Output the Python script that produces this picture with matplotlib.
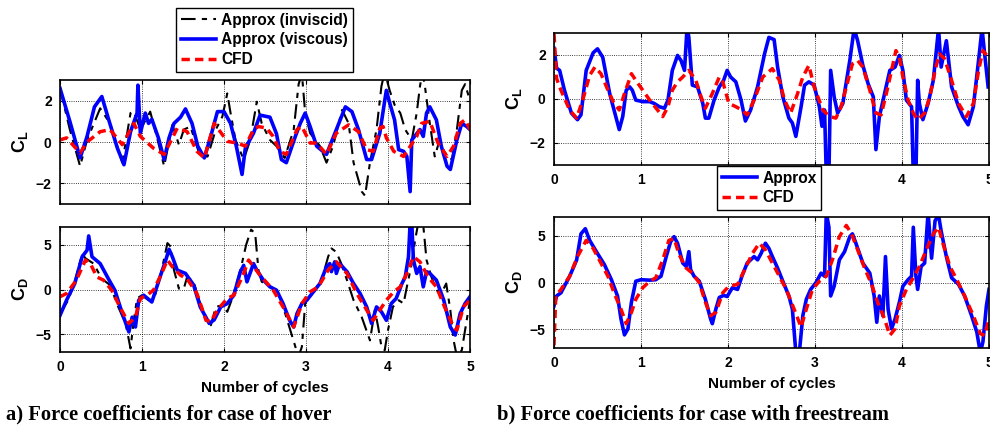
import numpy as np
import matplotlib.pyplot as plt

plt.rcParams['font.family'] = 'Liberation Sans'
plt.rcParams['font.weight'] = 'bold'
plt.rcParams['axes.labelweight'] = 'bold'
plt.rcParams['mathtext.fontset'] = 'custom'
plt.rcParams['mathtext.rm'] = 'Liberation Sans:bold'
plt.rcParams['mathtext.bf'] = 'Liberation Sans:bold'

# ---- a) hover, lift coefficient ----
hov_cl_inv_x = [0, 0.12, 0.245, 0.33, 0.49, 0.61, 0.76, 0.86, 0.9, 0.98, 1.1, 1.18, 1.27, 1.37, 1.45, 1.51, 1.59,
                1.71, 1.8, 1.9, 1.98, 2.04, 2.08, 2.14, 2.24, 2.32, 2.4, 2.46, 2.56, 2.64, 2.74, 2.85, 2.91, 2.95,
                2.99, 3.05, 3.17, 3.25, 3.33, 3.44, 3.52, 3.58, 3.68, 3.72, 3.78, 3.86, 3.92, 3.96, 4.02, 4.08,
                4.15, 4.21, 4.29, 4.35, 4.39, 4.42, 4.45, 4.51, 4.57, 4.63, 4.69, 4.78, 4.84, 4.9, 4.94, 5.0]
hov_cl_inv = [2.6, 0.6, -1.17, 0.1, 1.63, 0.9, -1.0, 1.4, 1.47, 0.6, 1.47, 0.27, -1.17, 0.83, -0.13, 0.6, 0.75,
              -0.7, -0.7, 0.6, 1.23, 2.35, 1.4, 0.1, -0.85, 0.1, 1.95, 0.9, 0.1, -0.2, -0.77, 0.6, 2.8, 3.3,
              1.4, 0.43, -0.2, -1.0, -0.2, 1.55, 0.9, -1.0, -2.4, -2.6, -1.0, 0.6, 2.7, 3.4, 2.5, 1.8,
              1.4, 0.6, 0.1, 1.4, 2.7, 3.4, 2.7, 0.9, -0.7, 0.1, -0.5, -0.85, 0.6, 2.5, 2.8, 2.0]

hov_cl_visc_x = [0, 0.12, 0.245, 0.33, 0.42, 0.51, 0.6, 0.7, 0.78, 0.86, 0.94, 0.95, 0.98, 1.04, 1.08, 1.12, 1.2,
                 1.27, 1.33, 1.39, 1.47, 1.53, 1.61, 1.68, 1.76, 1.84, 1.92, 2.0, 2.08, 2.15, 2.22, 2.26, 2.36,
                 2.44, 2.56, 2.64, 2.7, 2.76, 2.87, 2.93, 2.99, 3.05, 3.13, 3.25, 3.37, 3.48, 3.56, 3.64, 3.74,
                 3.8, 3.9, 3.96, 3.98, 4.02, 4.08, 4.13, 4.19, 4.23, 4.27, 4.29, 4.39, 4.43, 4.47, 4.51, 4.59,
                 4.65, 4.72, 4.76, 4.84, 4.9, 4.96, 5.0]
hov_cl_visc = [2.6, 1.0, -0.77, 0.27, 1.7, 2.2, 1.0, -0.3, -1.1, 0.5, 1.4, 2.75, 0.43, 1.4, 0.9, 1.1, 0.2,
               -0.85, 0.2, 0.9, 1.2, 1.6, 0.9, -0.2, -0.77, 0.3, 1.47, 1.47, 0.9, -0.2, -1.57, -0.3, 0.43,
               1.3, 1.2, 0.4, -0.85, -1.0, 0.27, 0.9, 1.4, 0.75, -0.2, -0.6, 0.6, 1.7, 1.47, 0.6, -0.85,
               -0.85, 0.43, 2.0, 2.5, 1.9, 1.07, -0.37, -0.45, -0.7, -2.4, 0.1, 0.6, 0.27, 1.4, 1.7, 1.07,
               -0.2, -1.17, -1.33, 0.1, 0.9, 0.75, 0.6]

hov_cl_cfd_x = [0, 0.08, 0.245, 0.33, 0.49, 0.61, 0.76, 0.9, 0.98, 1.14, 1.27, 1.43, 1.55, 1.67, 1.76, 1.88,
                2.04, 2.16, 2.26, 2.36, 2.42, 2.52, 2.6, 2.68, 2.76, 2.89, 2.95, 3.05, 3.13, 3.25, 3.37, 3.52,
                3.64, 3.74, 3.82, 3.9, 3.94, 3.98, 4.07, 4.19, 4.35, 4.41, 4.51, 4.61, 4.72, 4.8, 4.88, 4.94, 5.0]
hov_cl_cfd = [0.1, 0.2, -0.53, 0.0, 0.5, 0.6, -0.13, 0.9, 0.27, -0.3, -0.6, 0.67, 0.5, -0.45, -0.77, 0.9,
              0.03, -0.05, -0.2, 0.6, 0.75, 0.67, 0.27, -0.45, -0.6, 0.6, 0.75, -0.05, -0.05, -0.6, 0.43, 0.83,
              0.5, -0.37, -0.45, 0.67, 0.75, 0.2, -0.45, -0.7, 0.27, 0.9, 1.0, -0.05, -0.7, -0.2, 0.9, 1.07, 0.6]

# ---- a) hover, drag coefficient ----
hov_cd_inv_x = [0, 0.1, 0.18, 0.27, 0.31, 0.41, 0.51, 0.61, 0.71, 0.8, 0.86, 0.9, 0.94, 1.0, 1.08, 1.16, 1.24,
                1.31, 1.35, 1.39, 1.45, 1.51, 1.55, 1.63, 1.71, 1.8, 1.84, 1.9, 1.98, 2.04, 2.1, 2.2, 2.27, 2.33,
                2.38, 2.42, 2.46, 2.54, 2.6, 2.68, 2.76, 2.87, 2.91, 2.95, 2.99, 3.09, 3.19, 3.27, 3.31, 3.37,
                3.43, 3.5, 3.58, 3.68, 3.78, 3.84, 3.88, 3.92, 3.96, 4.0, 4.06, 4.13, 4.19, 4.23, 4.29, 4.33,
                4.37, 4.43, 4.47, 4.53, 4.59, 4.65, 4.71, 4.76, 4.8, 4.84, 4.9, 4.94, 5.0]
hov_cd_inv = [-2.7, -1.2, 0.86, 4.0, 3.5, 2.9, 1.2, 0.5, -1.95, -3.8, -6.6, -3.45, -1.0, -0.64, -1.2, -0.64, 2.17,
              5.2, 4.8, 2.17, 0.1, 0.1, 1.4, 0.86, -1.57, -3.45, -4.0, -1.95, -1.76, -2.5, -1.0, 2.17, 5.0, 6.7,
              6.3, 2.17, 0.86, 0.5, 0.1, -0.8, -3.1, -6.4, -7.5, -6.4, -1.57, -0.26, 1.05, 3.67, 4.6, 4.2,
              2.9, 1.05, -1.2, -3.1, -5.7, -2.3, -4.2, -6.4, -6.8, -4.55, -1.95, -1.2, -1.57, 0.3, 2.9, 5.5,
              7.5, 7.2, 3.3, 1.4, -0.07, -0.45, 0.67, -2.3, -5.7, -7.5, -6.8, -4.55, -1.2]

hov_cd_visc_x = [0, 0.08, 0.18, 0.27, 0.33, 0.35, 0.39, 0.49, 0.59, 0.67, 0.76, 0.84, 0.88, 0.92, 0.96, 1.02,
                 1.12, 1.22, 1.29, 1.33, 1.37, 1.43, 1.53, 1.63, 1.71, 1.82, 1.88, 1.96, 2.04, 2.12, 2.2, 2.24,
                 2.28, 2.36, 2.4, 2.48, 2.56, 2.64, 2.72, 2.8, 2.85, 2.89, 2.95, 3.01, 3.09, 3.17, 3.25, 3.29,
                 3.31, 3.35, 3.37, 3.41, 3.5, 3.58, 3.66, 3.74, 3.8, 3.86, 3.92, 3.98, 4.04, 4.1, 4.17, 4.21,
                 4.25, 4.27, 4.29, 4.31, 4.35, 4.39, 4.43, 4.47, 4.51, 4.59, 4.68, 4.76, 4.82, 4.88, 4.94, 5.0]
hov_cd_visc = [-2.9, -1.2, 0.67, 3.67, 4.4, 6.0, 3.67, 2.9, 1.2, -0.1, -2.7, -4.75, -3.1, -4.2, -1.2, -0.64,
               -1.4, 1.4, 3.3, 4.5, 3.67, 2.17, 1.8, 0.5, -1.95, -3.8, -3.4, -1.95, -1.57, -0.64, 2.0, 2.7,
               0.86, 2.9, 2.17, 1.05, 0.3, -0.07, -1.57, -3.45, -4.2, -2.7, -1.57, -1.2, -0.26, 0.67, 2.55, 2.9,
               2.0, 3.1, 1.8, 2.9, 2.0, 0.67, -0.45, -1.95, -3.8, -1.95, -2.5, -3.45, -1.57, -1.0, 0.67, 1.4,
               3.67, 7.5, 7.5, 3.3, 1.8, 2.55, 0.3, 2.0, 1.8, 1.05, -1.2, -4.2, -5.1, -2.7, -1.57, -0.8]

hov_cd_cfd_x = [0, 0.08, 0.2, 0.31, 0.37, 0.45, 0.53, 0.63, 0.73, 0.84, 0.92, 0.98, 1.06, 1.14, 1.22, 1.31, 1.37,
                1.47, 1.55, 1.67, 1.78, 1.84, 1.92, 2.04, 2.12, 2.24, 2.3, 2.44, 2.6, 2.72, 2.85, 2.95, 3.05,
                3.15, 3.27, 3.37, 3.5, 3.62, 3.74, 3.82, 3.9, 3.98, 4.07, 4.15, 4.23, 4.31, 4.39, 4.49, 4.59,
                4.69, 4.8, 4.84, 4.92, 5.0]
hov_cd_cfd = [-0.8, -0.45, 1.05, 3.3, 2.9, 1.4, 1.05, -0.07, -1.95, -3.8, -3.1, -1.0, -0.64, -0.07, 1.4, 3.3, 2.55,
              1.6, 1.2, -0.45, -3.45, -3.6, -2.3, -1.0, -0.64, 1.8, 3.3, 1.6, -0.07, -1.95, -4.2, -1.57, -0.26,
              0.3, 2.17, 3.1, 1.8, -0.45, -2.3, -3.45, -2.3, -1.2, -0.26, 0.3, 1.8, 3.67, 3.1, 1.4, 0.3,
              -1.95, -4.2, -4.55, -1.95, -1.2]

# ---- b) freestream, lift coefficient ----
fs_cl_visc_x = [0, 0.03, 0.065, 0.12, 0.2, 0.27, 0.31, 0.37, 0.45, 0.5, 0.56, 0.64, 0.69, 0.75, 0.79, 0.83, 0.87,
                0.9, 0.94, 1.02, 1.1, 1.15, 1.21, 1.27, 1.31, 1.36, 1.42, 1.46, 1.5, 1.53, 1.55, 1.59, 1.65,
                1.71, 1.74, 1.78, 1.84, 1.9, 1.95, 1.99, 2.03, 2.09, 2.15, 2.2, 2.26, 2.34, 2.42, 2.47, 2.53,
                2.57, 2.63, 2.7, 2.74, 2.78, 2.84, 2.88, 2.93, 2.99, 3.05, 3.08, 3.11, 3.13, 3.16, 3.18, 3.22,
                3.26, 3.32, 3.4, 3.45, 3.49, 3.55, 3.61, 3.67, 3.7, 3.74, 3.8, 3.86, 3.92, 3.97, 4.01, 4.05,
                4.11, 4.13, 4.16, 4.18, 4.2, 4.24, 4.3, 4.36, 4.42, 4.45, 4.51, 4.57, 4.65, 4.7, 4.76, 4.82,
                4.88, 4.92, 4.95, 4.99]
fs_cl_visc = [2.3, 1.4, 1.3, 0.4, -0.64, -0.94, -0.72, 1.3, 2.1, 2.28, 1.9, 0.25, -0.5, -1.39, -0.8, 0.4, 0.55,
              0.4, -0.05, -0.12, -0.12, -0.2, -0.35, -0.42, -0.05, 1.3, 1.98, 1.75, 1.3, 3.3, 2.8, 0.63, 0.55,
              -0.2, -0.87, -0.87, -0.05, 0.55, 0.85, 1.3, 1.0, 0.78, -0.05, -1.0, -0.5, 0.55, 2.05, 2.8, 2.7,
              1.45, 0.1, -0.87, -1.09, -1.7, -0.35, 0.63, 0.78, 0.63, -0.35, -1.24, -0.5, -3.5, -3.5, 1.3, 0.1,
              -0.64, -0.2, 1.75, 3.2, 2.65, 1.53, 0.7, 0.1, -2.3, -0.8, 0.25, 1.3, 1.45, 1.98, 1.3, -0.05,
              -0.35, -3.5, -3.5, 0.85, -0.2, -0.94, -0.2, 0.85, 3.2, 1.45, 2.65, 0.55, -0.35, -0.8, -1.17, -0.35,
              1.75, 3.2, 2.05, 0.55]

fs_cl_cfd_x = [0, 0.03, 0.08, 0.18, 0.26, 0.33, 0.41, 0.47, 0.54, 0.62, 0.69, 0.75, 0.81, 0.89, 0.94, 1.02, 1.1,
               1.19, 1.25, 1.31, 1.36, 1.42, 1.48, 1.55, 1.63, 1.69, 1.74, 1.82, 1.9, 1.94, 2.01, 2.09, 2.16,
               2.22, 2.3, 2.4, 2.51, 2.59, 2.65, 2.72, 2.8, 2.86, 2.93, 2.99, 3.09, 3.17, 3.24, 3.3, 3.36, 3.43,
               3.49, 3.55, 3.63, 3.7, 3.76, 3.82, 3.88, 3.93, 3.97, 4.01, 4.07, 4.13, 4.18, 4.26, 4.32, 4.38,
               4.43, 4.49, 4.57, 4.65, 4.74, 4.82, 4.88, 4.93, 4.99]
fs_cl_cfd = [2.95, 0.93, 0.4, -0.5, -0.87, -0.05, 1.08, 1.45, 1.15, 0.4, -0.2, -0.5, 0.25, 1.15, 0.85, 0.4, -0.05,
             -0.5, -0.8, -0.35, 0.4, 0.78, 1.0, 1.3, 0.85, 0.1, -0.42, 0.25, 1.0, 0.78, -0.2, -0.35, -0.5,
             -0.72, -0.05, 1.0, 1.38, 0.85, -0.05, -0.64, 0.25, 1.0, 1.53, 0.55, -0.5, -0.8, -0.87, -0.35, 0.55,
             1.6, 1.75, 1.45, 0.4, -0.64, -0.72, 0.25, 1.3, 2.2, 1.9, 1.0, -0.05, -0.64, -0.94, -0.64, 0.1, 1.3,
             2.05, 1.83, 0.85, -0.2, -0.8, -0.2, 1.3, 2.2, 1.9]

# ---- b) freestream, drag coefficient ----
fs_cd_visc_x = [0, 0.03, 0.08, 0.18, 0.26, 0.31, 0.36, 0.41, 0.5, 0.58, 0.66, 0.73, 0.77, 0.81, 0.85, 0.89, 0.94,
                1.0, 1.1, 1.17, 1.23, 1.29, 1.34, 1.38, 1.42, 1.48, 1.52, 1.55, 1.57, 1.61, 1.67, 1.74, 1.8,
                1.82, 1.86, 1.9, 1.95, 1.99, 2.05, 2.11, 2.16, 2.22, 2.3, 2.34, 2.38, 2.43, 2.47, 2.51, 2.57,
                2.63, 2.7, 2.74, 2.78, 2.82, 2.86, 2.9, 2.95, 3.01, 3.07, 3.11, 3.13, 3.16, 3.18, 3.22, 3.28,
                3.34, 3.4, 3.43, 3.47, 3.55, 3.63, 3.68, 3.71, 3.74, 3.78, 3.81, 3.84, 3.88, 3.92, 3.97, 4.01,
                4.07, 4.11, 4.13, 4.16, 4.18, 4.22, 4.26, 4.3, 4.34, 4.38, 4.42, 4.45, 4.51, 4.57, 4.65, 4.72,
                4.8, 4.86, 4.9, 4.93, 4.97, 5.0]
fs_cd_visc = [-2.5, -1.44, -1.1, 0.67, 2.4, 5.2, 5.75, 4.5, 3.1, 1.9, 0.3, -1.44, -3.9, -5.6, -4.95, -2.1, 0.14,
              0.3, 0.25, 0.3, 0.67, 2.77, 4.35, 4.9, 4.2, 2.07, 1.72, 3.3, 1.37, 0.67, 0.14, -1.8, -3.9,
              -4.4, -2.85, -1.6, -1.37, -1.5, -0.56, -0.74, 0.67, 2.07, 2.77, 2.42, 3.1, 4.2, 3.65, 2.77, 1.54,
              0.14, -1.44, -2.85, -7.5, -7.5, -3.55, -1.8, -0.74, -0.03, 1.0, 0.67, 7.5, 5.9, -1.44, -0.4, 2.42,
              3.3, 4.9, 5.2, 4.2, 2.07, 1.0, -1.44, -4.25, -1.44, -3.55, 2.77, -2.85, -4.95, -3.9, -2.1, -0.4,
              0.3, 0.67, 5.9, 0.67, -0.74, 1.72, 2.07, 7.5, 2.6, 6.6, 7.2, 5.5, 2.77, 0.5, -0.2, -1.44,
              -3.55, -5.3, -7.5, -6.35, -2.5, -0.74]

fs_cd_cfd_x = [0, 0.02, 0.08, 0.18, 0.27, 0.37, 0.45, 0.54, 0.62, 0.69, 0.77, 0.83, 0.89, 0.94, 1.02, 1.1, 1.17,
               1.25, 1.32, 1.38, 1.44, 1.52, 1.59, 1.67, 1.74, 1.8, 1.86, 1.94, 2.01, 2.11, 2.2, 2.28, 2.36, 2.43,
               2.51, 2.59, 2.67, 2.76, 2.84, 2.9, 2.97, 3.05, 3.13, 3.2, 3.28, 3.36, 3.42, 3.49, 3.57, 3.65, 3.72,
               3.8, 3.86, 3.92, 3.97, 4.05, 4.13, 4.2, 4.28, 4.36, 4.42, 4.47, 4.55, 4.63, 4.72, 4.82, 4.9, 4.95,
               5.0]
fs_cd_cfd = [-6.7, -1.44, -0.74, 0.67, 2.77, 4.5, 3.65, 2.07, 0.67, -1.1, -2.85, -4.4, -3.2, -1.8, -0.56, 0.14,
             0.5, 2.42, 4.5, 4.7, 2.95, 1.54, 1.0, -0.03, -2.1, -3.55, -3.2, -1.1, -0.4, -0.2, 1.54, 3.1, 4.2,
             3.5, 2.07, 0.67, -0.74, -2.85, -4.77, -2.85, -0.74, 0.14, 0.67, 2.42, 4.9, 6.1, 5.2, 3.5, 1.54,
             -0.2, -2.1, -3.9, -5.65, -4.95, -2.5, -0.74, 0.5, 1.72, 3.5, 5.2, 5.9, 4.2, 1.72, 0.3, -1.44,
             -3.55, -5.47, -5.65, -3.9]

inv_style = dict(color='black', lw=1.5, ls=(0, (7, 3, 2.5, 3)))
visc_style = dict(color='#0000ff', lw=2.6, ls='-')
cfd_style = dict(color='#ff0000', lw=2.5, ls=(0, (2.4, 1.5)))

W, H = 990, 425
fig = plt.figure(figsize=(9.9, 4.25), dpi=100)


def box(l, t, r, b):
    return [l / W, 1 - b / H, (r - l) / W, (b - t) / H]


ax1 = fig.add_axes(box(60, 80, 470, 204))
ax2 = fig.add_axes(box(60, 227, 470, 352))
ax3 = fig.add_axes(box(554, 33, 989, 165))
ax4 = fig.add_axes(box(554, 217, 989, 348))

h_inv, = ax1.plot(hov_cl_inv_x, hov_cl_inv, label='Approx (inviscid)', **inv_style)
h_visc, = ax1.plot(hov_cl_visc_x, hov_cl_visc, label='Approx (viscous)', **visc_style)
h_cfd, = ax1.plot(hov_cl_cfd_x, hov_cl_cfd, label='CFD', **cfd_style)

ax2.plot(hov_cd_inv_x, hov_cd_inv, **inv_style)
ax2.plot(hov_cd_visc_x, hov_cd_visc, **visc_style)
ax2.plot(hov_cd_cfd_x, hov_cd_cfd, **cfd_style)

h_visc2, = ax3.plot(fs_cl_visc_x, fs_cl_visc, label='Approx', **visc_style)
h_cfd2, = ax3.plot(fs_cl_cfd_x, fs_cl_cfd, label='CFD', **cfd_style)

ax4.plot(fs_cd_visc_x, fs_cd_visc, **visc_style)
ax4.plot(fs_cd_cfd_x, fs_cd_cfd, **cfd_style)

for ax, lim, ticks, lab in [(ax1, 3, [-2, 0, 2], r'$\mathrm{C_L}$'),
                            (ax2, 7, [-5, 0, 5], r'$\mathrm{C_D}$'),
                            (ax3, 3, [-2, 0, 2], r'$\mathrm{C_L}$'),
                            (ax4, 7, [-5, 0, 5], r'$\mathrm{C_D}$')]:
    ax.set_xlim(0, 5)
    ax.set_ylim(-lim, lim)
    ax.set_xticks([0, 1, 2, 3, 4, 5])
    ax.set_yticks(ticks)
    ax.grid(True, color='black', ls=':', lw=0.6)
    ax.tick_params(direction='in', top=True, right=True, labelsize=10, length=3, width=0.8, pad=6)
    for t in ax.get_xticklabels() + ax.get_yticklabels():
        t.set_fontweight('bold')
    for s in ax.spines.values():
        s.set_linewidth(1.2)
    ax.set_ylabel(lab, fontsize=13, labelpad=4)

ax1.tick_params(labelbottom=False)
ax2.set_xlabel('Number of cycles', fontsize=11, fontweight='bold', labelpad=5)
ax4.set_xlabel('Number of cycles', fontsize=11, fontweight='bold', labelpad=5)

leg_kw = dict(loc='upper left', handlelength=2.3, handletextpad=0.3, borderpad=0.3, borderaxespad=0,
              labelspacing=0.3, fancybox=False, edgecolor='black', framealpha=1,
              prop={'weight': 'bold', 'size': 11.2})
leg1 = fig.legend(handles=[h_inv, h_visc, h_cfd], bbox_to_anchor=(176 / W, 1 - 8 / H), **leg_kw)
leg1.get_frame().set_linewidth(1.0)
leg2 = fig.legend(handles=[h_visc2, h_cfd2], bbox_to_anchor=(717 / W, 1 - 166 / H), **leg_kw)
leg2.get_frame().set_linewidth(1.0)

fig.text(6 / W, 1 - 419 / H, 'a) Force coefficients for case of hover', family='Liberation Serif',
         weight='bold', fontsize=14.8, va='baseline', ha='left')
fig.text(497 / W, 1 - 419 / H, 'b) Force coefficients for case with freestream', family='Liberation Serif',
         weight='bold', fontsize=14.8, va='baseline', ha='left')

fig.savefig('out.png', dpi=100)
